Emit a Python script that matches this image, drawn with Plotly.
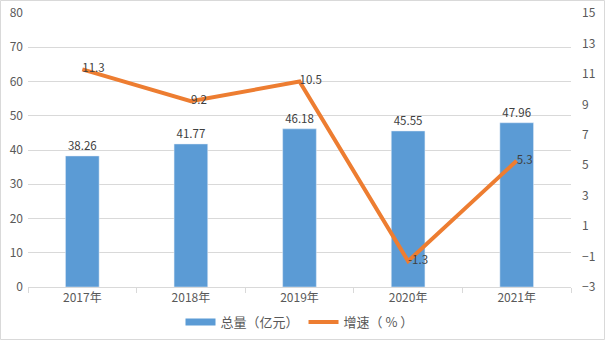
import plotly.graph_objects as go

years = ["2017年", "2018年", "2019年", "2020年", "2021年"]
totals = [38.26, 41.77, 46.18, 45.55, 47.96]
growth = [11.3, 9.2, 10.5, -1.3, 5.3]
total_labels = ["38.26", "41.77", "46.18", "45.55", "47.96"]
growth_labels = ["11.3", "9.2", "10.5", "-1.3", "5.3"]

BLUE = "#5B9BD5"
ORANGE = "#ED7D31"
FONT = "Noto Sans CJK SC"

W, H = 605, 340
ml, mr, mt, mb = 28, 34, 13, 53
pw, ph = W - ml - mr, H - mt - mb

fig = go.Figure()
fig.add_trace(go.Bar(
    x=years, y=totals, marker_color=BLUE, width=0.31,
    text=total_labels, textposition="outside", cliponaxis=False,
    textfont=dict(color="#404040", size=11.5, family=FONT),
    showlegend=False, name="总量（亿元）",
))
fig.add_trace(go.Scatter(
    x=years, y=growth, yaxis="y2", mode="lines+text",
    line=dict(color=ORANGE, width=4),
    text=growth_labels, textposition="middle right",
    textfont=dict(color="#404040", size=11.5, family=FONT),
    showlegend=False, name="增速（%）", cliponaxis=False,
))
# legend entries
fig.add_trace(go.Scatter(x=[None], y=[None], mode="lines",
                         line=dict(color=BLUE, width=7), name="总量（亿元）"))
fig.add_trace(go.Scatter(x=[None], y=[None], mode="lines",
                         line=dict(color=ORANGE, width=4), name="增速（ % ）"))

fig.update_layout(
    width=W, height=H,
    margin=dict(l=ml, r=mr, t=mt, b=mb, autoexpand=False),
    paper_bgcolor="white", plot_bgcolor="white",
    font=dict(family=FONT, size=12, color="#595959"),
    xaxis=dict(
        type="category", showgrid=False, showline=True, linecolor="#D9D9D9",
        ticks="outside", tickson="boundaries", ticklen=5, tickcolor="#D9D9D9",
        tickfont=dict(size=12, color="#595959"), automargin=False,
    ),
    yaxis=dict(
        range=[0, 80], dtick=10, showgrid=True, gridcolor="#D9D9D9",
        zeroline=False, showline=False, ticks="", ticklabelstandoff=4,
        tickfont=dict(size=12, color="#595959"), automargin=False,
    ),
    yaxis2=dict(
        range=[-3, 15], tick0=-3, dtick=2, overlaying="y", side="right",
        showgrid=False, zeroline=False, showline=False, ticks="",
        ticklabelstandoff=10, automargin=False,
        tickfont=dict(size=12, color="#595959"),
    ),
    legend=dict(
        orientation="h", x=0.5, xanchor="center", y=-0.128, yanchor="middle",
        font=dict(size=13, color="#595959", family=FONT),
        itemwidth=30, tracegroupgap=0,
    ),
    shapes=[dict(
        type="rect", xref="paper", yref="paper",
        x0=-(ml - 0.5) / pw, x1=1 + (mr - 0.5) / pw,
        y0=-(mb - 0.5) / ph, y1=1 + (mt - 0.5) / ph,
        line=dict(color="#D9D9D9", width=1), layer="below",
    )],
)

fig.write_html("out.html")
